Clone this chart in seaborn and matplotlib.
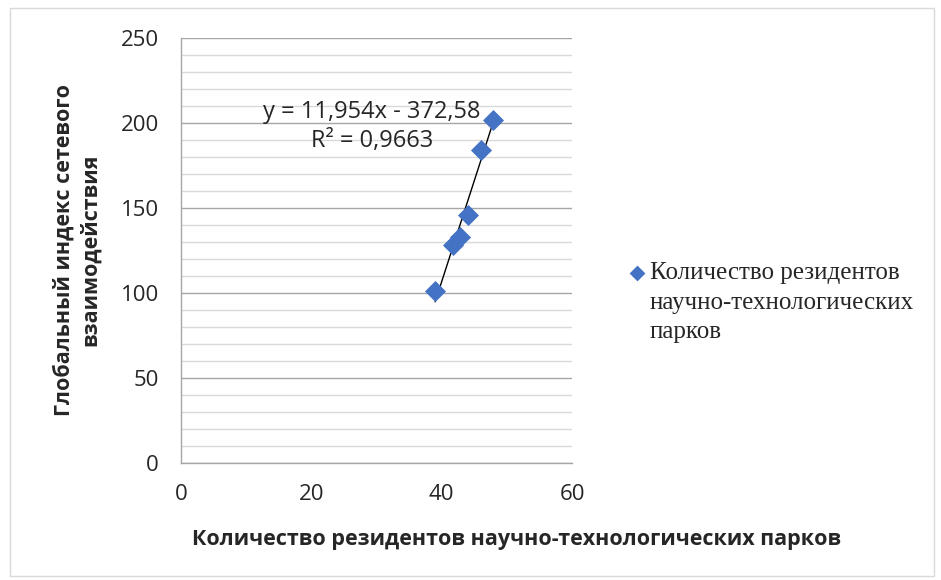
import numpy as np
import pandas as pd
import matplotlib
matplotlib.use("Agg")
import matplotlib.pyplot as plt
import seaborn as sns
from matplotlib.patches import Rectangle
from matplotlib.ticker import MultipleLocator

# Data
residents = [39.0, 41.8, 42.8, 44.0, 46.0, 47.8]
network_index = [101, 128, 133, 146, 184, 202]

series_name = "Количество резидентов научно-технологических парков"
legend_label = "Количество резидентов\nнаучно-технологических\nпарков"
x_label = "Количество резидентов научно-технологических парков"
y_label = "Глобальный индекс сетевого\nвзаимодействия"
equation = "y = 11,954x - 372,58\nR² = 0,9663"

df = pd.DataFrame({"x": residents, "y": network_index})

sns.set_style("white")
plt.rcParams["font.family"] = ["Open Sans", "DejaVu Sans"]

fig = plt.figure(figsize=(9.41, 5.80), dpi=100)
ax = fig.add_axes([0.1923, 0.2017, 0.4156, 0.7328])

# outer chart border
fig.patches.append(Rectangle((0.011, 0.007), 0.982, 0.979, transform=fig.transFigure,
                             fill=False, edgecolor="#D9D9D9", linewidth=1))

sns.scatterplot(data=df, x="x", y="y", marker="D", s=115, color="#4472C4",
                linewidth=0, label=legend_label, ax=ax, zorder=3)
sns.regplot(data=df, x="x", y="y", scatter=False, ci=None, truncate=True,
            line_kws={"color": "black", "linewidth": 1}, ax=ax)

ax.set_xlim(0, 60)
ax.set_ylim(0, 250)
ax.xaxis.set_major_locator(MultipleLocator(20))
ax.yaxis.set_major_locator(MultipleLocator(50))
ax.yaxis.set_minor_locator(MultipleLocator(10))

ax.grid(False)
ax.yaxis.grid(True, which="major", color="#A6A6A6", linewidth=1)
ax.yaxis.grid(True, which="minor", color="#D9D9D9", linewidth=1)
ax.set_axisbelow(True)

for s in ["top", "right"]:
    ax.spines[s].set_visible(False)
for s in ["left", "bottom"]:
    ax.spines[s].set_color("#A6A6A6")
    ax.spines[s].set_linewidth(1)

ax.tick_params(axis="both", which="major", direction="out", length=6, width=1,
               color="#A6A6A6", labelsize=16, pad=9)
ax.tick_params(axis="y", which="minor", length=0)
ax.tick_params(axis="y", pad=10)

ax.set_xlabel(x_label, fontsize=15.5, fontweight="bold")
ax.set_ylabel(y_label, fontsize=15.5, fontweight="bold", linespacing=1.25)
ax.xaxis.label.set_va("center")
ax.xaxis.set_label_coords(0.859, -0.181)
ax.yaxis.label.set_va("center")
ax.yaxis.set_label_coords(-0.266, 0.501)

ax.text(0.489, 198, equation, transform=ax.get_yaxis_transform(),
        ha="center", va="center", fontsize=17, linespacing=1.3)

leg = ax.legend(loc="upper left", bbox_to_anchor=(0.64, 0.587),
                bbox_transform=fig.transFigure, frameon=False,
                prop={"family": "Liberation Serif", "size": 18},
                handletextpad=0.0, handlelength=1.0, markerscale=0.75,
                labelspacing=0.2)
for col in leg._legend_handle_box.get_children():
    for row in col.get_children():
        row.align = "top"
for t in leg.get_texts():
    t.set_linespacing(1.45)

fig.savefig("out.png", dpi=100)
